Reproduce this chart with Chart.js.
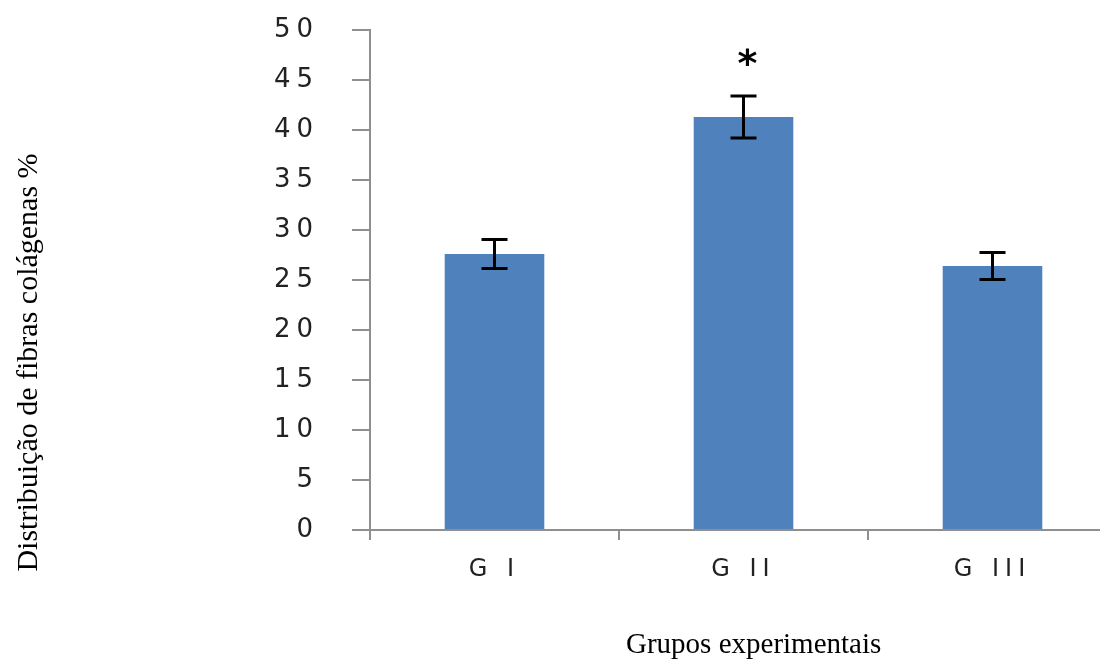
<!DOCTYPE html>
<html lang="pt">
<head>
  <meta charset="utf-8">
  <title>Fibras colágenas</title>
  <style>
    html, body { margin: 0; padding: 0; background: #fff; overflow: hidden; }
    #wrap { width: 1120px; height: 666px; }
  </style>
</head>
<body>
  <div id="wrap"><canvas id="myChart" width="1120" height="666"></canvas></div>
  <script src="https://cdn.jsdelivr.net/npm/chart.js"></script>
  <script>
    // dados
    const categories = ['G I', 'G II', 'G III'];
    const means = [27.6, 41.3, 26.4];
    const errors = [1.45, 2.1, 1.35];
    const marks = ['', '*', ''];
    const yMin = 0, yMax = 50, yStep = 5;

    const axisGray = '#8f8f8f';
    const labelSpacing = 6;

    // barras de erro + asterisco, depois espaçamento das letras para os rótulos
    const errorBars = {
      id: 'errorBars',
      afterDatasetsDraw(chart) {
        const ctx = chart.ctx;
        const y = chart.scales.y;
        const meta = chart.getDatasetMeta(0);
        ctx.save();
        ctx.strokeStyle = '#000';
        ctx.lineWidth = 3;
        meta.data.forEach((bar, i) => {
          const top = y.getPixelForValue(means[i] + errors[i]);
          const bot = y.getPixelForValue(means[i] - errors[i]);
          ctx.beginPath();
          ctx.moveTo(bar.x, top); ctx.lineTo(bar.x, bot);
          ctx.moveTo(bar.x - 13, top); ctx.lineTo(bar.x + 13, top);
          ctx.moveTo(bar.x - 13, bot); ctx.lineTo(bar.x + 13, bot);
          ctx.stroke();
          if (marks[i]) {
            ctx.fillStyle = '#000';
            ctx.font = 'bold 38px "DejaVu Sans"';
            ctx.textAlign = 'center';
            ctx.textBaseline = 'alphabetic';
            ctx.fillText(marks[i], bar.x + 4, top - 20);
          }
        });
        ctx.restore();
        ctx.letterSpacing = labelSpacing + 'px';
      },
      afterDraw(chart) {
        chart.ctx.letterSpacing = '0px';
      }
    };

    const ctx = document.getElementById('myChart').getContext('2d');
    const myChart = new Chart(ctx, {
      type: 'bar',
      data: {
        labels: categories,
        datasets: [{
          data: means,
          backgroundColor: '#4f81bd',
          borderWidth: 0,
          barPercentage: 0.4,
          categoryPercentage: 1
        }]
      },
      options: {
        responsive: false,
        animation: false,
        layout: { padding: { top: 30, right: 3, bottom: 0, left: 0 } },
        plugins: {
          legend: { display: false },
          tooltip: { enabled: false }
        },
        scales: {
          x: {
            afterFit: (s) => { s.height = 136; },
            grid: { drawOnChartArea: false, tickLength: 10, color: axisGray, lineWidth: 2 },
            border: { color: axisGray, width: 2 },
            ticks: {
              z: 1,
              padding: 15,
              color: '#222',
              font: { family: 'DejaVu Sans', size: 24 }
            },
            title: {
              display: true,
              text: '\u2002\u2009Grupos experimentais',
              color: '#000',
              font: { family: 'Liberation Serif', size: 29 },
              padding: { top: 0, bottom: 3 }
            }
          },
          y: {
            min: yMin,
            max: yMax,
            afterFit: (s) => { s.width = 370; s.paddingTop = 0; s.paddingBottom = 0; },
            grid: { drawOnChartArea: false, tickLength: 18, color: axisGray, lineWidth: 2 },
            border: { color: axisGray, width: 2 },
            ticks: {
              z: 1,
              stepSize: yStep,
              padding: 39 - labelSpacing,
              color: '#222',
              font: { family: 'DejaVu Sans', size: 26 }
            },
            title: {
              display: true,
              text: 'Distribuição de fibras colágenas %\u2003\u2003\u2003\u2003\u2003\u2002',
              color: '#000',
              font: { family: 'Liberation Serif', size: 30 },
              padding: { top: 11, bottom: 0 }
            }
          }
        }
      },
      plugins: [errorBars]
    });
  </script>
</body>
</html>
